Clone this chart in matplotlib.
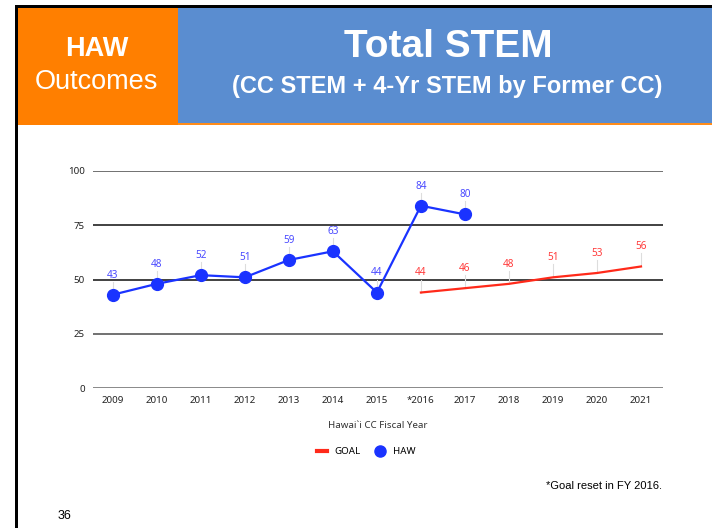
import matplotlib.pyplot as plt
from matplotlib.patches import Rectangle
from matplotlib.lines import Line2D

years = ['2009', '2010', '2011', '2012', '2013', '2014', '2015',
         '*2016', '2017', '2018', '2019', '2020', '2021']
haw = [43, 48, 52, 51, 59, 63, 44, 84, 80]
goal = [44, 46, 48, 51, 53, 56]
goal_start = 7  # goal series begins at *2016
yticks = [0, 25, 50, 75, 100]

W, H = 712, 528
fig = plt.figure(figsize=(W / 100, H / 100), dpi=100)
fig.patch.set_facecolor('white')

def px(x, y, w, h):
    return [x / W, 1 - (y + h) / H, w / W, h / H]

# header
bg = fig.add_axes([0, 0, 1, 1])
bg.set_xlim(0, W)
bg.set_ylim(H, 0)
bg.axis('off')
bg.add_patch(Rectangle((15, 5), W - 15, 2.5, color='black', lw=0))
bg.add_patch(Rectangle((15, 5), 2.5, H - 5, color='black', lw=0))
bg.add_patch(Rectangle((17.5, 7.5), 160, 117, color='#ff7f00', lw=0))
bg.add_patch(Rectangle((177.5, 7.5), W - 177, 115, color='#5a8dd0', lw=0))
bg.add_patch(Rectangle((177.5, 122.5), W - 177, 2, color='#ff8c1a', lw=0))

hf = ['Liberation Sans', 'DejaVu Sans']
bg.text(97, 49, 'HAW', color='white', fontsize=19.5, fontweight='bold',
        ha='center', va='center', family=hf)
bg.text(96, 82, 'Outcomes', color='white', fontsize=19.5,
        ha='center', va='center', family=hf)
bg.text(448, 47, 'Total STEM', color='white', fontsize=28, fontweight='bold',
        ha='center', va='center', family=hf)
bg.text(447, 86, '(CC STEM + 4-Yr STEM by Former CC)', color='white',
        fontsize=17, fontweight='bold', ha='center', va='center', family=hf)
bg.text(604, 486, '*Goal reset in FY 2016.', fontsize=8, ha='center',
        va='center', family=hf)
bg.text(65, 516, '36', fontsize=9, ha='center', va='center', family=hf)

# chart
cf = ['Noto Sans', 'DejaVu Sans']
ax = fig.add_axes(px(93, 171, 570, 217))
ax.set_xlim(-0.45, len(years) - 0.5)
ax.set_ylim(0, 100)
for s in ax.spines.values():
    s.set_visible(False)
for v in yticks:
    ax.axhline(v, color='#333333' if v in (50, 75) else '#666666',
               lw=1.3 if v else 1.8, zorder=1)
ax.set_yticks(yticks)
ax.set_xticks(range(len(years)))
ax.set_xticklabels(years)
ax.tick_params(length=0, labelsize=7, labelcolor='#222222', pad=6)
for lab in ax.get_xticklabels() + ax.get_yticklabels():
    lab.set_family(cf)

hx = list(range(len(haw)))
gx = list(range(goal_start, goal_start + len(goal)))
ax.plot(gx, goal, color='#ff2a1a', lw=1.6, zorder=3)
ax.plot(hx, haw, color='#1a33ff', lw=1.6, marker='o', ms=8.5, zorder=4)

for x, v in zip(hx, haw):
    ax.plot([x, x], [v, v + 6], color='#dddddd', lw=0.8, zorder=2)
    ax.text(x, v + 6.5, str(v), color='#4a4aff', fontsize=7.2, ha='center',
            va='bottom', family=cf)
for x, v in zip(gx, goal):
    ax.plot([x, x], [v, v + 6], color='#dddddd', lw=0.8, zorder=2)
    ax.text(x, v + 6.5, str(v), color='#ff3b3b', fontsize=7.2, ha='center',
            va='bottom', family=cf)

ax.set_xlabel('Hawai`i CC Fiscal Year', fontsize=7, color='#333333',
              labelpad=11, family=cf)

handles = [Line2D([], [], color='#ff2a1a', lw=3),
           Line2D([], [], color='#1a33ff', marker='o', ls='', ms=8)]
fig.legend(handles, ['GOAL', 'HAW'], loc='center', ncol=2, frameon=False,
           bbox_to_anchor=(366 / W, 1 - 452 / H), handlelength=1.0,
           columnspacing=1.5, handletextpad=0.8,
           prop={'family': cf, 'size': 7})

fig.savefig('out.png', dpi=100)
